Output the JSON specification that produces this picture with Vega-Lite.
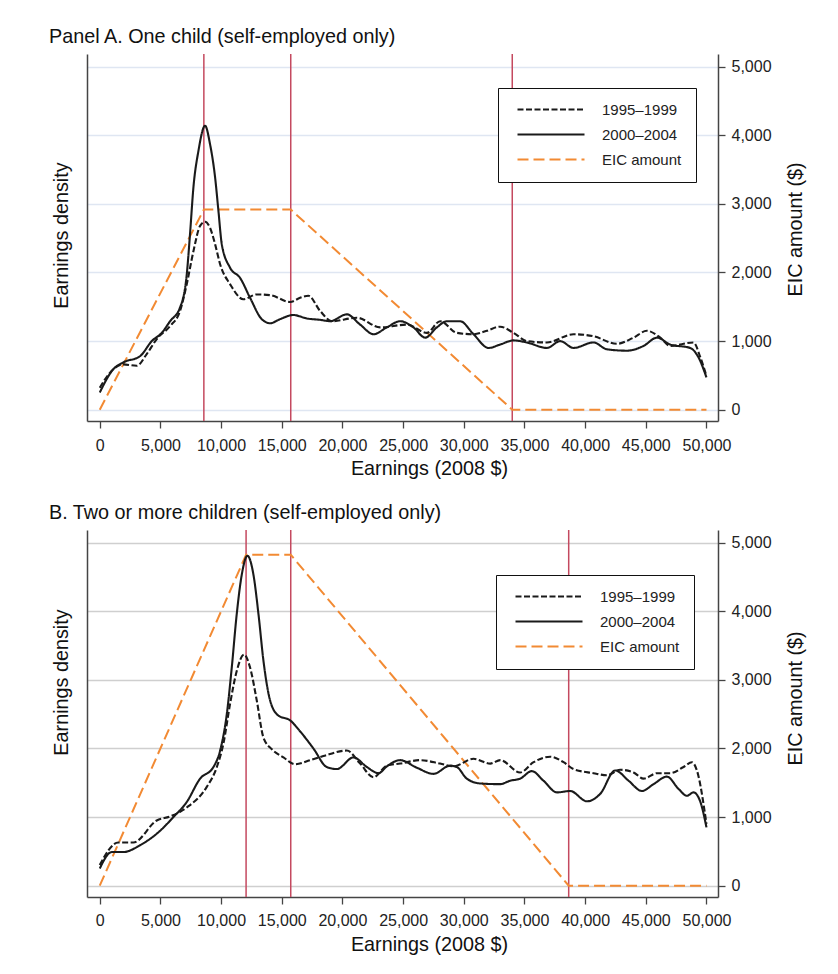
{
  "$schema": "https://vega.github.io/schema/vega-lite/v6.json",
  "background": "white",
  "padding": {"left": 49, "top": 27, "right": 5, "bottom": 5},
  "config": {
    "font": "Liberation Sans",
    "view": {"stroke": null},
    "axis": {"labelFont": "Liberation Sans", "titleFont": "Liberation Sans", "labelColor": "#222", "titleColor": "#111", "domainColor": "#444", "domainWidth": 1.5, "tickColor": "#444", "tickWidth": 1.3, "titleFontWeight": "normal"},
    "title": {"font": "Liberation Sans", "fontWeight": "normal", "color": "#111"}
  },
  "datasets": {
    "kinks": [
      {"panel": "A", "earnings": 8580}, {"panel": "A", "earnings": 15740}, {"panel": "A", "earnings": 33995},
      {"panel": "B", "earnings": 12060}, {"panel": "B", "earnings": 15740}, {"panel": "B", "earnings": 38646}
    ],
    "eic": [
      {"panel": "A", "series": "EIC amount", "earnings": 0, "eic": 0},
      {"panel": "A", "series": "EIC amount", "earnings": 8580, "eic": 2917},
      {"panel": "A", "series": "EIC amount", "earnings": 15740, "eic": 2917},
      {"panel": "A", "series": "EIC amount", "earnings": 33995, "eic": 0},
      {"panel": "A", "series": "EIC amount", "earnings": 50000, "eic": 0},
      {"panel": "B", "series": "EIC amount", "earnings": 0, "eic": 0},
      {"panel": "B", "series": "EIC amount", "earnings": 12060, "eic": 4824},
      {"panel": "B", "series": "EIC amount", "earnings": 15740, "eic": 4824},
      {"panel": "B", "series": "EIC amount", "earnings": 38646, "eic": 0},
      {"panel": "B", "series": "EIC amount", "earnings": 50000, "eic": 0}
    ],
    "dens": [
      {"panel": "A", "series": "2000–2004", "earnings": 0, "density": 0.25},
      {"panel": "A", "series": "2000–2004", "earnings": 1120, "density": 0.59},
      {"panel": "A", "series": "2000–2004", "earnings": 1950, "density": 0.69},
      {"panel": "A", "series": "2000–2004", "earnings": 3320, "density": 0.78},
      {"panel": "A", "series": "2000–2004", "earnings": 4290, "density": 1.0},
      {"panel": "A", "series": "2000–2004", "earnings": 5110, "density": 1.12},
      {"panel": "A", "series": "2000–2004", "earnings": 5800, "density": 1.29},
      {"panel": "A", "series": "2000–2004", "earnings": 6620, "density": 1.49},
      {"panel": "A", "series": "2000–2004", "earnings": 7170, "density": 1.97},
      {"panel": "A", "series": "2000–2004", "earnings": 7440, "density": 2.56},
      {"panel": "A", "series": "2000–2004", "earnings": 7720, "density": 3.24},
      {"panel": "A", "series": "2000–2004", "earnings": 8130, "density": 3.77},
      {"panel": "A", "series": "2000–2004", "earnings": 8680, "density": 4.14},
      {"panel": "A", "series": "2000–2004", "earnings": 9090, "density": 3.87},
      {"panel": "A", "series": "2000–2004", "earnings": 9510, "density": 3.38},
      {"panel": "A", "series": "2000–2004", "earnings": 9780, "density": 2.9},
      {"panel": "A", "series": "2000–2004", "earnings": 10060, "density": 2.41},
      {"panel": "A", "series": "2000–2004", "earnings": 10740, "density": 2.07},
      {"panel": "A", "series": "2000–2004", "earnings": 11570, "density": 1.92},
      {"panel": "A", "series": "2000–2004", "earnings": 12390, "density": 1.63},
      {"panel": "A", "series": "2000–2004", "earnings": 13350, "density": 1.32},
      {"panel": "A", "series": "2000–2004", "earnings": 14040, "density": 1.26},
      {"panel": "A", "series": "2000–2004", "earnings": 14860, "density": 1.32},
      {"panel": "A", "series": "2000–2004", "earnings": 15960, "density": 1.38},
      {"panel": "A", "series": "2000–2004", "earnings": 17060, "density": 1.33},
      {"panel": "A", "series": "2000–2004", "earnings": 18160, "density": 1.31},
      {"panel": "A", "series": "2000–2004", "earnings": 18990, "density": 1.29},
      {"panel": "A", "series": "2000–2004", "earnings": 20360, "density": 1.39},
      {"panel": "A", "series": "2000–2004", "earnings": 21460, "density": 1.24},
      {"panel": "A", "series": "2000–2004", "earnings": 22560, "density": 1.1},
      {"panel": "A", "series": "2000–2004", "earnings": 23660, "density": 1.2},
      {"panel": "A", "series": "2000–2004", "earnings": 24760, "density": 1.29},
      {"panel": "A", "series": "2000–2004", "earnings": 25850, "density": 1.2},
      {"panel": "A", "series": "2000–2004", "earnings": 26820, "density": 1.05},
      {"panel": "A", "series": "2000–2004", "earnings": 27780, "density": 1.2},
      {"panel": "A", "series": "2000–2004", "earnings": 28610, "density": 1.29},
      {"panel": "A", "series": "2000–2004", "earnings": 29700, "density": 1.29},
      {"panel": "A", "series": "2000–2004", "earnings": 30800, "density": 1.1},
      {"panel": "A", "series": "2000–2004", "earnings": 32040, "density": 0.9},
      {"panel": "A", "series": "2000–2004", "earnings": 33000, "density": 0.95},
      {"panel": "A", "series": "2000–2004", "earnings": 34100, "density": 1.01},
      {"panel": "A", "series": "2000–2004", "earnings": 35200, "density": 0.98},
      {"panel": "A", "series": "2000–2004", "earnings": 36850, "density": 0.9},
      {"panel": "A", "series": "2000–2004", "earnings": 37950, "density": 1.0},
      {"panel": "A", "series": "2000–2004", "earnings": 39040, "density": 0.9},
      {"panel": "A", "series": "2000–2004", "earnings": 40690, "density": 0.98},
      {"panel": "A", "series": "2000–2004", "earnings": 41800, "density": 0.88},
      {"panel": "A", "series": "2000–2004", "earnings": 43440, "density": 0.86},
      {"panel": "A", "series": "2000–2004", "earnings": 44820, "density": 0.93},
      {"panel": "A", "series": "2000–2004", "earnings": 45920, "density": 1.05},
      {"panel": "A", "series": "2000–2004", "earnings": 47010, "density": 0.95},
      {"panel": "A", "series": "2000–2004", "earnings": 48660, "density": 0.9},
      {"panel": "A", "series": "2000–2004", "earnings": 49350, "density": 0.76},
      {"panel": "A", "series": "2000–2004", "earnings": 50000, "density": 0.47},
      {"panel": "A", "series": "1995–1999", "earnings": 0, "density": 0.32},
      {"panel": "A", "series": "1995–1999", "earnings": 1120, "density": 0.59},
      {"panel": "A", "series": "1995–1999", "earnings": 1950, "density": 0.66},
      {"panel": "A", "series": "1995–1999", "earnings": 3050, "density": 0.64},
      {"panel": "A", "series": "1995–1999", "earnings": 3870, "density": 0.81},
      {"panel": "A", "series": "1995–1999", "earnings": 4700, "density": 1.03},
      {"panel": "A", "series": "1995–1999", "earnings": 5800, "density": 1.22},
      {"panel": "A", "series": "1995–1999", "earnings": 6620, "density": 1.44},
      {"panel": "A", "series": "1995–1999", "earnings": 7170, "density": 1.83},
      {"panel": "A", "series": "1995–1999", "earnings": 7720, "density": 2.31},
      {"panel": "A", "series": "1995–1999", "earnings": 8270, "density": 2.68},
      {"panel": "A", "series": "1995–1999", "earnings": 8680, "density": 2.74},
      {"panel": "A", "series": "1995–1999", "earnings": 9090, "density": 2.65},
      {"panel": "A", "series": "1995–1999", "earnings": 9510, "density": 2.41},
      {"panel": "A", "series": "1995–1999", "earnings": 9920, "density": 2.12},
      {"panel": "A", "series": "1995–1999", "earnings": 10740, "density": 1.83},
      {"panel": "A", "series": "1995–1999", "earnings": 11840, "density": 1.61},
      {"panel": "A", "series": "1995–1999", "earnings": 12940, "density": 1.68},
      {"panel": "A", "series": "1995–1999", "earnings": 14040, "density": 1.67},
      {"panel": "A", "series": "1995–1999", "earnings": 15690, "density": 1.57},
      {"panel": "A", "series": "1995–1999", "earnings": 16510, "density": 1.63},
      {"panel": "A", "series": "1995–1999", "earnings": 17200, "density": 1.66},
      {"panel": "A", "series": "1995–1999", "earnings": 18160, "density": 1.44},
      {"panel": "A", "series": "1995–1999", "earnings": 19130, "density": 1.29},
      {"panel": "A", "series": "1995–1999", "earnings": 21190, "density": 1.34},
      {"panel": "A", "series": "1995–1999", "earnings": 23110, "density": 1.2},
      {"panel": "A", "series": "1995–1999", "earnings": 25310, "density": 1.24},
      {"panel": "A", "series": "1995–1999", "earnings": 26960, "density": 1.12},
      {"panel": "A", "series": "1995–1999", "earnings": 28050, "density": 1.29},
      {"panel": "A", "series": "1995–1999", "earnings": 29430, "density": 1.12},
      {"panel": "A", "series": "1995–1999", "earnings": 30800, "density": 1.1},
      {"panel": "A", "series": "1995–1999", "earnings": 31900, "density": 1.15},
      {"panel": "A", "series": "1995–1999", "earnings": 33000, "density": 1.21},
      {"panel": "A", "series": "1995–1999", "earnings": 34100, "density": 1.12},
      {"panel": "A", "series": "1995–1999", "earnings": 35200, "density": 1.0},
      {"panel": "A", "series": "1995–1999", "earnings": 36850, "density": 0.98},
      {"panel": "A", "series": "1995–1999", "earnings": 39040, "density": 1.1},
      {"panel": "A", "series": "1995–1999", "earnings": 40690, "density": 1.07},
      {"panel": "A", "series": "1995–1999", "earnings": 42620, "density": 0.96},
      {"panel": "A", "series": "1995–1999", "earnings": 43990, "density": 1.05},
      {"panel": "A", "series": "1995–1999", "earnings": 45090, "density": 1.15},
      {"panel": "A", "series": "1995–1999", "earnings": 46190, "density": 1.05},
      {"panel": "A", "series": "1995–1999", "earnings": 47010, "density": 0.93},
      {"panel": "A", "series": "1995–1999", "earnings": 48930, "density": 0.98},
      {"panel": "A", "series": "1995–1999", "earnings": 49500, "density": 0.76},
      {"panel": "A", "series": "1995–1999", "earnings": 50000, "density": 0.49},
      {"panel": "B", "series": "2000–2004", "earnings": 0, "density": 0.25},
      {"panel": "B", "series": "2000–2004", "earnings": 990, "density": 0.49},
      {"panel": "B", "series": "2000–2004", "earnings": 1950, "density": 0.49},
      {"panel": "B", "series": "2000–2004", "earnings": 3320, "density": 0.59},
      {"panel": "B", "series": "2000–2004", "earnings": 4970, "density": 0.8},
      {"panel": "B", "series": "2000–2004", "earnings": 6070, "density": 1.0},
      {"panel": "B", "series": "2000–2004", "earnings": 7170, "density": 1.22},
      {"panel": "B", "series": "2000–2004", "earnings": 8270, "density": 1.56},
      {"panel": "B", "series": "2000–2004", "earnings": 9370, "density": 1.73},
      {"panel": "B", "series": "2000–2004", "earnings": 9920, "density": 1.97},
      {"panel": "B", "series": "2000–2004", "earnings": 10470, "density": 2.5},
      {"panel": "B", "series": "2000–2004", "earnings": 10880, "density": 3.18},
      {"panel": "B", "series": "2000–2004", "earnings": 11290, "density": 3.96},
      {"panel": "B", "series": "2000–2004", "earnings": 11710, "density": 4.54},
      {"panel": "B", "series": "2000–2004", "earnings": 12170, "density": 4.81},
      {"panel": "B", "series": "2000–2004", "earnings": 12660, "density": 4.54},
      {"panel": "B", "series": "2000–2004", "earnings": 13080, "density": 3.96},
      {"panel": "B", "series": "2000–2004", "earnings": 13490, "density": 3.28},
      {"panel": "B", "series": "2000–2004", "earnings": 14040, "density": 2.7},
      {"panel": "B", "series": "2000–2004", "earnings": 14720, "density": 2.48},
      {"panel": "B", "series": "2000–2004", "earnings": 15690, "density": 2.41},
      {"panel": "B", "series": "2000–2004", "earnings": 16510, "density": 2.25},
      {"panel": "B", "series": "2000–2004", "earnings": 17610, "density": 2.0},
      {"panel": "B", "series": "2000–2004", "earnings": 18710, "density": 1.73},
      {"panel": "B", "series": "2000–2004", "earnings": 19540, "density": 1.7},
      {"panel": "B", "series": "2000–2004", "earnings": 20910, "density": 1.87},
      {"panel": "B", "series": "2000–2004", "earnings": 22010, "density": 1.73},
      {"panel": "B", "series": "2000–2004", "earnings": 22970, "density": 1.64},
      {"panel": "B", "series": "2000–2004", "earnings": 23660, "density": 1.74},
      {"panel": "B", "series": "2000–2004", "earnings": 24760, "density": 1.83},
      {"panel": "B", "series": "2000–2004", "earnings": 26130, "density": 1.72},
      {"panel": "B", "series": "2000–2004", "earnings": 27500, "density": 1.63},
      {"panel": "B", "series": "2000–2004", "earnings": 28880, "density": 1.75},
      {"panel": "B", "series": "2000–2004", "earnings": 29430, "density": 1.73},
      {"panel": "B", "series": "2000–2004", "earnings": 30250, "density": 1.56},
      {"panel": "B", "series": "2000–2004", "earnings": 31350, "density": 1.49},
      {"panel": "B", "series": "2000–2004", "earnings": 33000, "density": 1.48},
      {"panel": "B", "series": "2000–2004", "earnings": 33820, "density": 1.53},
      {"panel": "B", "series": "2000–2004", "earnings": 34640, "density": 1.56},
      {"panel": "B", "series": "2000–2004", "earnings": 35610, "density": 1.67},
      {"panel": "B", "series": "2000–2004", "earnings": 36570, "density": 1.53},
      {"panel": "B", "series": "2000–2004", "earnings": 37670, "density": 1.36},
      {"panel": "B", "series": "2000–2004", "earnings": 38770, "density": 1.38},
      {"panel": "B", "series": "2000–2004", "earnings": 40150, "density": 1.23},
      {"panel": "B", "series": "2000–2004", "earnings": 41250, "density": 1.34},
      {"panel": "B", "series": "2000–2004", "earnings": 42480, "density": 1.68},
      {"panel": "B", "series": "2000–2004", "earnings": 43580, "density": 1.53},
      {"panel": "B", "series": "2000–2004", "earnings": 44680, "density": 1.38},
      {"panel": "B", "series": "2000–2004", "earnings": 45640, "density": 1.48},
      {"panel": "B", "series": "2000–2004", "earnings": 46740, "density": 1.59},
      {"panel": "B", "series": "2000–2004", "earnings": 47700, "density": 1.41},
      {"panel": "B", "series": "2000–2004", "earnings": 48390, "density": 1.31},
      {"panel": "B", "series": "2000–2004", "earnings": 48930, "density": 1.36},
      {"panel": "B", "series": "2000–2004", "earnings": 49500, "density": 1.22},
      {"panel": "B", "series": "2000–2004", "earnings": 50000, "density": 0.85},
      {"panel": "B", "series": "1995–1999", "earnings": 0, "density": 0.3},
      {"panel": "B", "series": "1995–1999", "earnings": 1530, "density": 0.63},
      {"panel": "B", "series": "1995–1999", "earnings": 2770, "density": 0.63},
      {"panel": "B", "series": "1995–1999", "earnings": 4700, "density": 0.95},
      {"panel": "B", "series": "1995–1999", "earnings": 5800, "density": 1.01},
      {"panel": "B", "series": "1995–1999", "earnings": 7170, "density": 1.14},
      {"panel": "B", "series": "1995–1999", "earnings": 8820, "density": 1.44},
      {"panel": "B", "series": "1995–1999", "earnings": 9650, "density": 1.73},
      {"panel": "B", "series": "1995–1999", "earnings": 10190, "density": 2.07},
      {"panel": "B", "series": "1995–1999", "earnings": 10740, "density": 2.65},
      {"panel": "B", "series": "1995–1999", "earnings": 11290, "density": 3.13},
      {"panel": "B", "series": "1995–1999", "earnings": 11900, "density": 3.37},
      {"panel": "B", "series": "1995–1999", "earnings": 12390, "density": 3.18},
      {"panel": "B", "series": "1995–1999", "earnings": 12940, "density": 2.7},
      {"panel": "B", "series": "1995–1999", "earnings": 13490, "density": 2.16},
      {"panel": "B", "series": "1995–1999", "earnings": 14180, "density": 1.99},
      {"panel": "B", "series": "1995–1999", "earnings": 15140, "density": 1.87},
      {"panel": "B", "series": "1995–1999", "earnings": 16100, "density": 1.77},
      {"panel": "B", "series": "1995–1999", "earnings": 17340, "density": 1.83},
      {"panel": "B", "series": "1995–1999", "earnings": 18430, "density": 1.89},
      {"panel": "B", "series": "1995–1999", "earnings": 20360, "density": 1.97},
      {"panel": "B", "series": "1995–1999", "earnings": 21460, "density": 1.78},
      {"panel": "B", "series": "1995–1999", "earnings": 22560, "density": 1.58},
      {"panel": "B", "series": "1995–1999", "earnings": 23660, "density": 1.75},
      {"panel": "B", "series": "1995–1999", "earnings": 24760, "density": 1.78},
      {"panel": "B", "series": "1995–1999", "earnings": 26400, "density": 1.83},
      {"panel": "B", "series": "1995–1999", "earnings": 28050, "density": 1.78},
      {"panel": "B", "series": "1995–1999", "earnings": 29150, "density": 1.74},
      {"panel": "B", "series": "1995–1999", "earnings": 30800, "density": 1.85},
      {"panel": "B", "series": "1995–1999", "earnings": 32180, "density": 1.78},
      {"panel": "B", "series": "1995–1999", "earnings": 33000, "density": 1.83},
      {"panel": "B", "series": "1995–1999", "earnings": 34640, "density": 1.65},
      {"panel": "B", "series": "1995–1999", "earnings": 35750, "density": 1.8},
      {"panel": "B", "series": "1995–1999", "earnings": 37120, "density": 1.88},
      {"panel": "B", "series": "1995–1999", "earnings": 38220, "density": 1.8},
      {"panel": "B", "series": "1995–1999", "earnings": 39040, "density": 1.7},
      {"panel": "B", "series": "1995–1999", "earnings": 40690, "density": 1.64},
      {"panel": "B", "series": "1995–1999", "earnings": 41800, "density": 1.61},
      {"panel": "B", "series": "1995–1999", "earnings": 42890, "density": 1.69},
      {"panel": "B", "series": "1995–1999", "earnings": 43990, "density": 1.65},
      {"panel": "B", "series": "1995–1999", "earnings": 44820, "density": 1.56},
      {"panel": "B", "series": "1995–1999", "earnings": 45920, "density": 1.64},
      {"panel": "B", "series": "1995–1999", "earnings": 47010, "density": 1.64},
      {"panel": "B", "series": "1995–1999", "earnings": 48110, "density": 1.73},
      {"panel": "B", "series": "1995–1999", "earnings": 48800, "density": 1.8},
      {"panel": "B", "series": "1995–1999", "earnings": 49210, "density": 1.68},
      {"panel": "B", "series": "1995–1999", "earnings": 50000, "density": 0.9}
    ]
  },
  "vconcat": [
    {
      "title": {"text": "Panel A. One child (self-employed only)", "fontSize": 19.8, "anchor": "start", "frame": "group", "dx": -38, "baseline": "alphabetic", "offset": -10},
      "width": 631,
      "height": 367,
      "layer": [
        {
          "data": {"name": "kinks"},
          "transform": [{"filter": "datum.panel === 'A'"}],
          "mark": {"type": "rule", "color": "#c4495f", "strokeWidth": 1.5},
          "encoding": {
            "x": {"field": "earnings", "type": "quantitative", "scale": {"domain": [-1050, 50950], "nice": false, "zero": false},
              "axis": {"title": "Earnings (2008 $)", "values": [0, 5000, 10000, 15000, 20000, 25000, 30000, 35000, 40000, 45000, 50000], "format": ",d", "grid": false, "tickSize": 7, "labelFontSize": 16, "labelBaseline": "alphabetic", "labelPadding": 22, "titleFontSize": 19.8, "titleX": 342, "titleY": 53, "titleBaseline": "alphabetic", "titleAnchor": null}}
          }
        },
        {
          "data": {"name": "eic"},
          "transform": [{"filter": "datum.panel === 'A'"}],
          "mark": {"type": "line", "strokeWidth": 2},
          "encoding": {
            "x": {"field": "earnings", "type": "quantitative"},
            "y": {"field": "eic", "type": "quantitative", "scale": {"domain": [-165, 5185], "nice": false, "zero": false},
              "axis": {"orient": "right", "title": "EIC amount ($)", "values": [0, 1000, 2000, 3000, 4000, 5000], "format": ",d", "grid": true, "gridColor": "#dfe6f2", "gridWidth": 1.3, "tickSize": 7, "labelFontSize": 16, "labelPadding": 6, "titleFontSize": 19.8, "titleAngle": 270, "titleX": 77, "titleY": 175, "titleBaseline": "middle", "titleAlign": "center"}},
            "color": {"field": "series", "type": "nominal", "scale": {"domain": ["1995–1999", "2000–2004", "EIC amount"], "range": ["#1a1a1a", "#1a1a1a", "#f28a33"]},
              "legend": {"title": null, "orient": "none", "legendX": 411, "legendY": 34, "strokeColor": "#111", "fillColor": "white", "padding": 14, "clipHeight": 15, "symbolOffset": 4, "symbolType": "stroke", "symbolSize": 4489, "symbolStrokeWidth": 2.2, "labelFontSize": 15, "labelFont": "Liberation Sans", "labelColor": "#222", "labelOffset": 16, "rowPadding": 9}},
            "strokeDash": {"field": "series", "type": "nominal", "scale": {"domain": ["1995–1999", "2000–2004", "EIC amount"], "range": [[6, 2.5], [1, 0], [11, 5]]},
              "legend": {"title": null, "orient": "none", "legendX": 411, "legendY": 34, "strokeColor": "#111", "fillColor": "white", "padding": 14, "clipHeight": 15, "symbolOffset": 4, "symbolType": "stroke", "symbolSize": 4489, "symbolStrokeWidth": 2.2, "labelFontSize": 15, "labelFont": "Liberation Sans", "labelColor": "#222", "labelOffset": 16, "rowPadding": 9}}
          }
        },
        {
          "data": {"name": "dens"},
          "transform": [{"filter": "datum.panel === 'A'"}],
          "mark": {"type": "line", "strokeWidth": 2.1, "interpolate": "monotone"},
          "encoding": {
            "x": {"field": "earnings", "type": "quantitative"},
            "y": {"field": "density", "type": "quantitative", "scale": {"domain": [-0.165, 5.185], "nice": false, "zero": false},
              "axis": {"orient": "left", "title": "Earnings density", "labels": false, "ticks": false, "grid": false, "titleFontSize": 19.8, "titleAngle": 270, "titleX": -25.5, "titleY": 181, "titleBaseline": "middle", "titleAlign": "center"}},
            "color": {"field": "series", "type": "nominal"},
            "strokeDash": {"field": "series", "type": "nominal"}
          }
        }
      ],
      "resolve": {"scale": {"y": "independent"}}
    },
    {
      "title": {"text": "B. Two or more children (self-employed only)", "fontSize": 19.8, "anchor": "start", "frame": "group", "dx": -38, "baseline": "alphabetic", "offset": -10},
      "width": 631,
      "height": 367,
      "layer": [
        {
          "data": {"name": "kinks"},
          "transform": [{"filter": "datum.panel === 'B'"}],
          "mark": {"type": "rule", "color": "#c4495f", "strokeWidth": 1.5},
          "encoding": {
            "x": {"field": "earnings", "type": "quantitative", "scale": {"domain": [-1050, 50950], "nice": false, "zero": false},
              "axis": {"title": "Earnings (2008 $)", "values": [0, 5000, 10000, 15000, 20000, 25000, 30000, 35000, 40000, 45000, 50000], "format": ",d", "grid": false, "tickSize": 7, "labelFontSize": 16, "labelBaseline": "alphabetic", "labelPadding": 21, "titleFontSize": 19.8, "titleX": 342, "titleY": 53, "titleBaseline": "alphabetic", "titleAnchor": null}}
          }
        },
        {
          "data": {"name": "eic"},
          "transform": [{"filter": "datum.panel === 'B'"}],
          "mark": {"type": "line", "strokeWidth": 2},
          "encoding": {
            "x": {"field": "earnings", "type": "quantitative"},
            "y": {"field": "eic", "type": "quantitative", "scale": {"domain": [-165, 5185], "nice": false, "zero": false},
              "axis": {"orient": "right", "title": "EIC amount ($)", "values": [0, 1000, 2000, 3000, 4000, 5000], "format": ",d", "grid": true, "gridColor": "#cfcfcf", "gridWidth": 1.3, "tickSize": 7, "labelFontSize": 16, "labelPadding": 6, "titleFontSize": 19.8, "titleAngle": 270, "titleX": 77, "titleY": 168, "titleBaseline": "middle", "titleAlign": "center"}},
            "color": {"field": "series", "type": "nominal", "scale": {"domain": ["1995–1999", "2000–2004", "EIC amount"], "range": ["#1a1a1a", "#1a1a1a", "#f28a33"]},
              "legend": {"title": null, "orient": "none", "legendX": 409, "legendY": 45, "strokeColor": "#111", "fillColor": "white", "padding": 14, "clipHeight": 15, "symbolOffset": 4, "symbolType": "stroke", "symbolSize": 4489, "symbolStrokeWidth": 2.2, "labelFontSize": 15, "labelFont": "Liberation Sans", "labelColor": "#222", "labelOffset": 16, "rowPadding": 9}},
            "strokeDash": {"field": "series", "type": "nominal", "scale": {"domain": ["1995–1999", "2000–2004", "EIC amount"], "range": [[6, 2.5], [1, 0], [11, 5]]},
              "legend": {"title": null, "orient": "none", "legendX": 409, "legendY": 45, "strokeColor": "#111", "fillColor": "white", "padding": 14, "clipHeight": 15, "symbolOffset": 4, "symbolType": "stroke", "symbolSize": 4489, "symbolStrokeWidth": 2.2, "labelFontSize": 15, "labelFont": "Liberation Sans", "labelColor": "#222", "labelOffset": 16, "rowPadding": 9}}
          }
        },
        {
          "data": {"name": "dens"},
          "transform": [{"filter": "datum.panel === 'B'"}],
          "mark": {"type": "line", "strokeWidth": 2.1, "interpolate": "monotone"},
          "encoding": {
            "x": {"field": "earnings", "type": "quantitative"},
            "y": {"field": "density", "type": "quantitative", "scale": {"domain": [-0.165, 5.185], "nice": false, "zero": false},
              "axis": {"orient": "left", "title": "Earnings density", "labels": false, "ticks": false, "grid": false, "titleFontSize": 19.8, "titleAngle": 270, "titleX": -25.5, "titleY": 152, "titleBaseline": "middle", "titleAlign": "center"}},
            "color": {"field": "series", "type": "nominal"},
            "strokeDash": {"field": "series", "type": "nominal"}
          }
        }
      ],
      "resolve": {"scale": {"y": "independent"}}
    }
  ],
  "spacing": 25,
  "resolve": {"scale": {"color": "independent", "strokeDash": "independent"}, "legend": {"color": "independent", "strokeDash": "independent"}}
}
